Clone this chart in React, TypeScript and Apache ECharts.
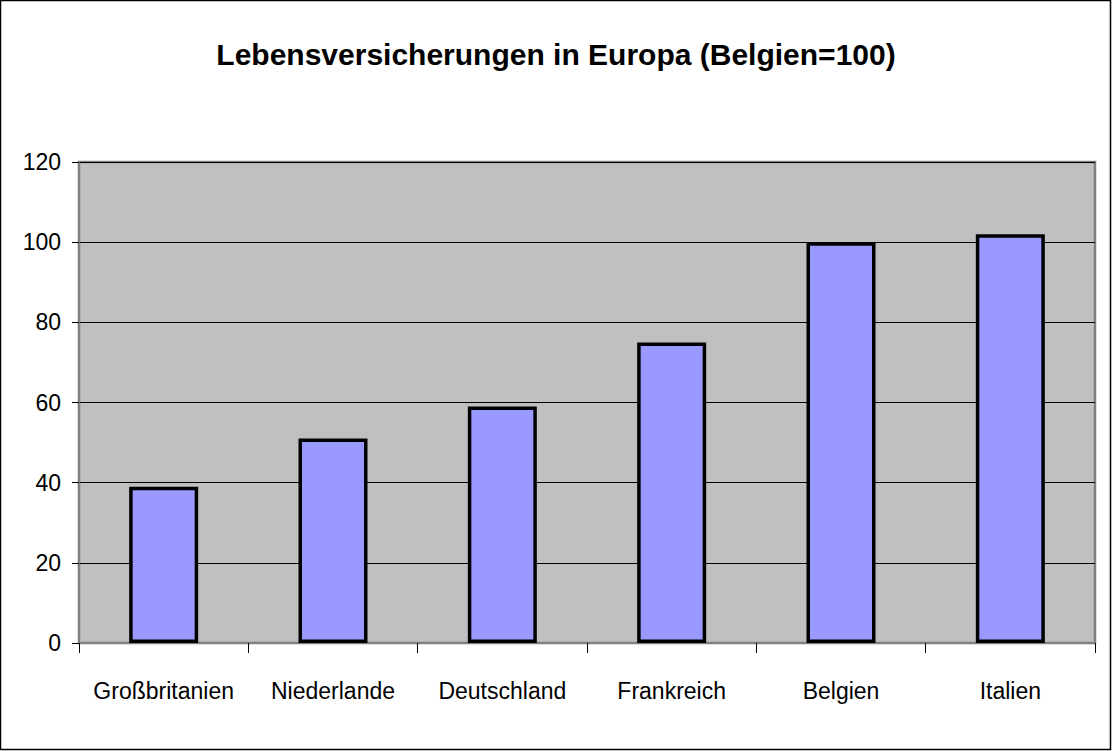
import React, { useEffect, useRef } from "react";
import * as echarts from "echarts";

const categories = ["Großbritanien", "Niederlande", "Deutschland", "Frankreich", "Belgien", "Italien"];
const values = [39, 51, 59, 75, 100, 102];
const titleText = "Lebensversicherungen in Europa (Belgien=100)";

const FONT = "'Liberation Sans Narrow', 'Arial Narrow', 'Liberation Sans', Arial, sans-serif";

export default function App() {
  const ref = useRef<HTMLDivElement>(null);
  useEffect(() => {
    document.body.style.margin = "0";
    const chart = echarts.init(ref.current!, null, { renderer: "svg" });
    chart.setOption({
      animation: false,
      backgroundColor: "#ffffff",
      title: {
        text: titleText,
        left: "center",
        top: 34,
        textStyle: { fontFamily: FONT, fontWeight: "bold", fontSize: 30, color: "#000" },
      },
      grid: {
        left: 79,
        right: 17,
        top: 162,
        bottom: 108,
        show: true,
        backgroundColor: "#C0C0C0",
        borderColor: "#808080",
        borderWidth: 2.5,
      },
      xAxis: {
        type: "category",
        data: categories,
        boundaryGap: true,
        axisLine: { show: true, lineStyle: { color: "#808080", width: 2 } },
        axisTick: { show: true, alignWithLabel: false, length: 10, lineStyle: { color: "#000", width: 1 } },
        axisLabel: { fontFamily: FONT, fontSize: 23, color: "#000", margin: 36, interval: 0 },
      },
      yAxis: {
        type: "value",
        min: 0,
        max: 120,
        interval: 20,
        axisLine: { show: true, lineStyle: { color: "#808080", width: 2 } },
        axisTick: { show: true, length: 7, lineStyle: { color: "#000", width: 1 } },
        axisLabel: { fontFamily: FONT, fontSize: 23, color: "#000", margin: 18 },
        splitLine: { show: true, lineStyle: { color: "#000", width: 1 } },
      },
      series: [
        {
          type: "bar",
          data: values,
          barWidth: 69,
          itemStyle: { color: "#9999FF", borderColor: "#000", borderWidth: 3.5 },
        },
      ],
      graphic: [
        {
          type: "rect",
          shape: { x: 0.5, y: 0.5, width: 1110, height: 749 },
          style: { fill: "none", stroke: "#000", lineWidth: 1.5 },
          silent: true,
          z: 100,
        },
      ],
    });
    return () => chart.dispose();
  }, []);
  return <div ref={ref} style={{ width: 1112, height: 751, position: "absolute", left: 0, top: 0 }} />;
}
